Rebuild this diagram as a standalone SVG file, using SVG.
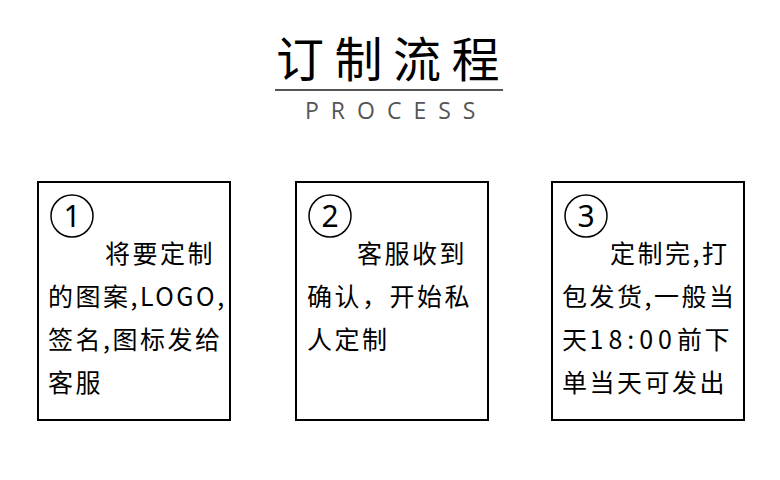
<svg xmlns="http://www.w3.org/2000/svg" width="780" height="480" viewBox="0 0 780 480">
<style>
.box{fill:#fff;stroke:#000;stroke-width:2}
.circ{fill:none;stroke:#000;stroke-width:1.5}
.num{font-family:"Noto Sans","Noto Sans CJK SC",sans-serif;font-size:30px;fill:#000;text-anchor:middle}
.t{font-family:"Noto Sans CJK SC","Noto Sans",sans-serif;font-size:25px;fill:#000;letter-spacing:2.5px}
.wide{letter-spacing:5px}
.title{font-family:"Noto Sans CJK SC",sans-serif;font-size:48px;fill:#000;letter-spacing:10.5px}
.sub{font-family:"Open Sans","Noto Sans",sans-serif;font-size:23px;fill:#555;letter-spacing:12px}
</style>
<rect width="780" height="480" fill="#fff"/>
<g id="header">
<text class="title" x="276" y="77">订制流程</text>
<line x1="275" y1="90" x2="503" y2="90" stroke="#555" stroke-width="2"/>
<text class="sub" x="305" y="119">PROCESS</text>
</g>
<g id="step1">
<rect class="box" x="38" y="182" width="192" height="238"/>
<circle class="circ" cx="72" cy="216" r="21"/>
<text class="num" x="72" y="227">1</text>
<text class="t" x="105" y="263">将要定制</text>
<text class="t" x="48" y="306">的图案,LOGO,</text>
<text class="t" x="48" y="349">签名,图标发给</text>
<text class="t" x="48" y="392">客服</text>
</g>
<g id="step2">
<rect class="box" x="296" y="182" width="192" height="238"/>
<circle class="circ" cx="330" cy="216" r="21"/>
<text class="num" x="330" y="227">2</text>
<text class="t" x="357" y="263">客服收到</text>
<text class="t" x="307" y="306">确认，开始私</text>
<text class="t" x="307" y="349">人定制</text>
</g>
<g id="step3">
<rect class="box" x="552" y="182" width="192" height="238"/>
<circle class="circ" cx="586" cy="216" r="21"/>
<text class="num" x="586" y="227">3</text>
<text class="t" x="610" y="263">定制完,打</text>
<text class="t" x="562" y="306">包发货,一般当</text>
<text class="t" x="562" y="349">天<tspan class="wide">18:00</tspan>前下</text>
<text class="t" x="562" y="392">单当天可发出</text>
</g>
</svg>
